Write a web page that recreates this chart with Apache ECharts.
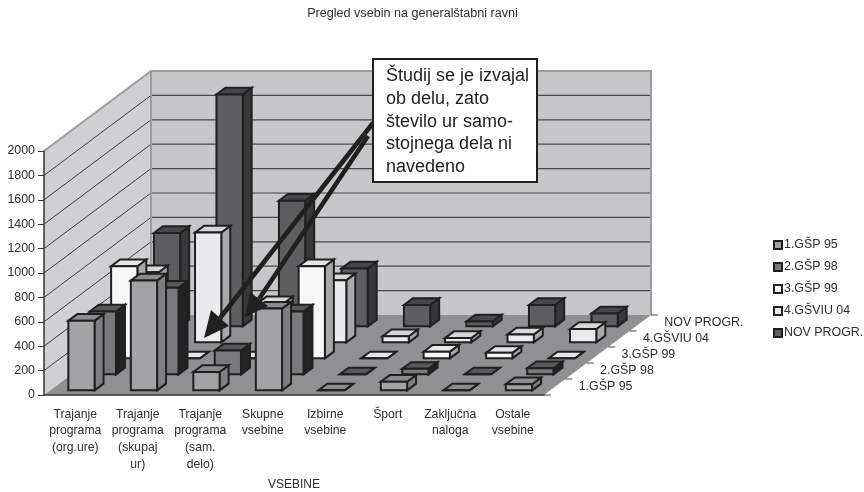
<!DOCTYPE html>
<html>
<head>
<meta charset="utf-8">
<style>html,body{margin:0;padding:0;background:#fff}#chart{width:864px;height:492px}</style>
<script src="https://cdn.jsdelivr.net/npm/echarts@6/dist/echarts.min.js"></script>
</head>
<body>
<div id="chart"></div>
<script>
// Content categories along the front axis
const categories = [
  'Trajanje\nprograma\n(org.ure)', 'Trajanje\nprograma\n(skupaj\nur)', 'Trajanje\nprograma\n(sam.\ndelo)',
  'Skupne\nvsebine', 'Izbirne\nvsebine', 'Šport', 'Zaključna\nnaloga', 'Ostale\nvsebine'
];
// Study programmes, front row to back row
const programmes = ['1.GŠP 95', '2.GŠP 98', '3.GŠP 99', '4.GŠVIU 04', 'NOV PROGR.'];
const gsp95  = [570, 900, 150, 670, 0, 70, 0, 50];
const gsp98  = [515, 710, 195, 515, 0, 45, 0, 50];
const gsp99  = [755, 0, 0, 755, 0, 55, 45, 0];
const gsviu04 = [575, 900, 320, 510, 50, 35, 65, 110];
const novProgr = [765, 1900, 1030, 475, 175, 40, 175, 105];
const rows = [gsp95, gsp98, gsp99, gsviu04, novProgr];
const valueTicks = [0, 200, 400, 600, 800, 1000, 1200, 1400, 1600, 1800, 2000];
const note = 'Študij se je izvajal\nob delu, zato\nštevilo ur samo-\nstojnega dela ni\nnavedeno';

// Shades of each row: front, top and side faces
const faces = [
  { front: '#a1a2a4', top: '#8b8c8e', side: '#7e7f81' },
  { front: '#78797b', top: '#58595b', side: '#232123' },
  { front: '#f5f6f6', top: '#e4e5e6', side: '#a6a7a9' },
  { front: '#eaebec', top: '#d6d7d8', side: '#a9aaac' },
  { front: '#5d5e60', top: '#464749', side: '#38383a' }
];
const INK = '#211f20';
const TEXT = '#2e2e2e';
const FONT = '"Liberation Sans", Arial, sans-serif';

// Oblique projection: one depth row moves a point right and up by these amounts
const ROW_DX = 21.4;
const ROW_DY = -16;
const BAR_START = 0.29;
const BAR_END = 0.71;

function project(api, column, value, depth) {
  const band = api.size([1, 0])[0];
  const p = api.coord([0, value]);
  return [p[0] - band / 2 + column * band + depth * ROW_DX, p[1] + depth * ROW_DY];
}

function face(points, fill, stroke, width) {
  return {
    type: 'polygon',
    shape: { points },
    style: { fill, stroke: stroke || null, lineWidth: width || 0, lineJoin: 'miter' }
  };
}

function line(a, b, stroke, width) {
  return {
    type: 'line',
    shape: { x1: a[0], y1: a[1], x2: b[0], y2: b[1] },
    style: { stroke, lineWidth: width }
  };
}

// Walls, floor, gridlines and the depth axis with its labels
function renderRoom(params, api) {
  const n = categories.length, d = programmes.length, top = 2000;
  const P = (c, v, z) => project(api, c, v, z);
  const kids = [
    face([P(0, 0, 0), P(0, top, 0), P(0, top, d), P(0, 0, d)], '#cfd0d2'),
    face([P(0, 0, d), P(0, top, d), P(n, top, d), P(n, 0, d)], '#c6c7c9')
  ];
  valueTicks.slice(1, -1).forEach(v => {
    kids.push(line(P(0, v, 0), P(0, v, d), '#3c3c3e', 1));
    kids.push(line(P(0, v, d), P(n, v, d), '#48484a', 1.2));
  });
  kids.push(face([P(0, 0, 0), P(n, 0, 0), P(n, 0, d), P(0, 0, d)], '#8f9092'));
  kids.push({
    type: 'polyline',
    shape: { points: [P(0, top, 0), P(0, top, d), P(n, top, d), P(n, 0, d)] },
    style: { fill: null, stroke: '#9c9d9f', lineWidth: 2 }
  });
  kids.push(line(P(0, top, d), P(0, 0, d), '#9c9d9f', 2));
  for (let r = 0; r <= d; r++) {
    const a = P(n, 0, r);
    kids.push(line(a, [a[0] + 7, a[1]], '#444446', 1));
  }
  programmes.forEach((name, r) => {
    const a = P(n, 0, r + 0.5);
    kids.push({
      type: 'text',
      style: {
        x: a[0] + 24, y: a[1], text: name, fill: TEXT,
        font: '12.4px ' + FONT, align: 'left', verticalAlign: 'middle'
      }
    });
  });
  return { type: 'group', children: kids };
}

// One 3D column of a depth row
function barRenderer(row) {
  return function (params, api) {
    const c = api.value(0), v = api.value(1), shade = faces[row];
    const x0 = c + BAR_START, x1 = c + BAR_END;
    const z0 = row + BAR_START, z1 = row + BAR_END;
    const P = (x, val, z) => project(api, x, val, z);
    return {
      type: 'group',
      children: [
        face([P(x1, 0, z0), P(x1, 0, z1), P(x1, v, z1), P(x1, v, z0)], shade.side, INK, 2),
        face([P(x0, v, z0), P(x1, v, z0), P(x1, v, z1), P(x0, v, z1)], shade.top, INK, 2),
        face([P(x0, 0, z0), P(x1, 0, z0), P(x1, v, z0), P(x0, v, z0)], shade.front, INK, 2)
      ]
    };
  };
}

function arrow(from, tip, wingA, wingB) {
  return [
    { type: 'line', z: 100, shape: { x1: from[0], y1: from[1], x2: (wingA[0] + wingB[0]) / 2, y2: (wingA[1] + wingB[1]) / 2 },
      style: { stroke: INK, lineWidth: 4.6 } },
    { type: 'polygon', z: 100, shape: { points: [tip, wingA, wingB] }, style: { fill: INK } }
  ];
}

const chart = echarts.init(document.getElementById('chart'), null, { renderer: 'canvas' });
chart.setOption({
  animation: false,
  backgroundColor: '#ffffff',
  title: {
    text: 'Pregled vsebin na generalštabni ravni',
    left: 407.5, top: 2, textAlign: 'center',
    textStyle: { fontFamily: FONT, fontSize: 12.6, fontWeight: 'normal', color: TEXT }
  },
  legend: {
    data: programmes,
    orient: 'vertical',
    left: 768, top: 233,
    icon: 'rect',
    itemWidth: 8, itemHeight: 8, itemGap: 8,
    selectedMode: false,
    textStyle: { fontFamily: FONT, fontSize: 12.4, color: TEXT, lineHeight: 14, padding: [0, 0, 0, -3] }
  },
  grid: { left: 44, top: 151, width: 500, height: 244 },
  xAxis: {
    type: 'category',
    data: categories,
    z: 50,
    name: 'VSEBINE',
    nameLocation: 'middle',
    nameGap: 84,
    nameTextStyle: { fontFamily: FONT, fontSize: 12, color: TEXT },
    axisLine: { lineStyle: { color: '#333335', width: 1.5 } },
    axisTick: { length: 5, lineStyle: { color: '#333335' } },
    axisLabel: { interval: 0, margin: 11, lineHeight: 16.7, fontFamily: FONT, fontSize: 12.2, color: TEXT },
    splitLine: { show: false }
  },
  yAxis: {
    type: 'value',
    min: 0, max: 2000, interval: 200,
    z: 50,
    axisLine: { show: true, lineStyle: { color: '#333335', width: 1.5 } },
    axisTick: { show: true, length: 6, lineStyle: { color: '#333335' } },
    axisLabel: { margin: 9, fontFamily: FONT, fontSize: 12.4, color: TEXT, formatter: v => String(v) },
    splitLine: { show: false }
  },
  graphic: {
    elements: [
      ...arrow([373, 123], [204, 338], [211, 310], [229, 326]),
      ...arrow([368, 136], [245, 317], [250, 292], [268, 306]),
      { type: 'rect', z: 101, shape: { x: 373, y: 59, width: 164, height: 123 },
        style: { fill: '#ffffff', stroke: INK, lineWidth: 2 } },
      { type: 'text', z: 102, x: 386, y: 65,
        style: { text: note, font: '18px ' + FONT, lineHeight: 22.7, fill: '#1f1d1e' } }
    ]
  },
  series: [
    { type: 'custom', z: 2, silent: true, clip: false, renderItem: renderRoom, data: [[0, 0]], encode: { x: 0, y: 1 } },
    ...rows.map((values, row) => ({
      type: 'custom',
      name: programmes[row],
      z: 20 - row,
      silent: true,
      clip: false,
      itemStyle: { color: faces[row].front, borderColor: INK, borderWidth: 2 },
      renderItem: barRenderer(row),
      encode: { x: 0, y: 1 },
      data: values.map((v, i) => [i, v])
    }))
  ]
});
</script>
</body>
</html>
